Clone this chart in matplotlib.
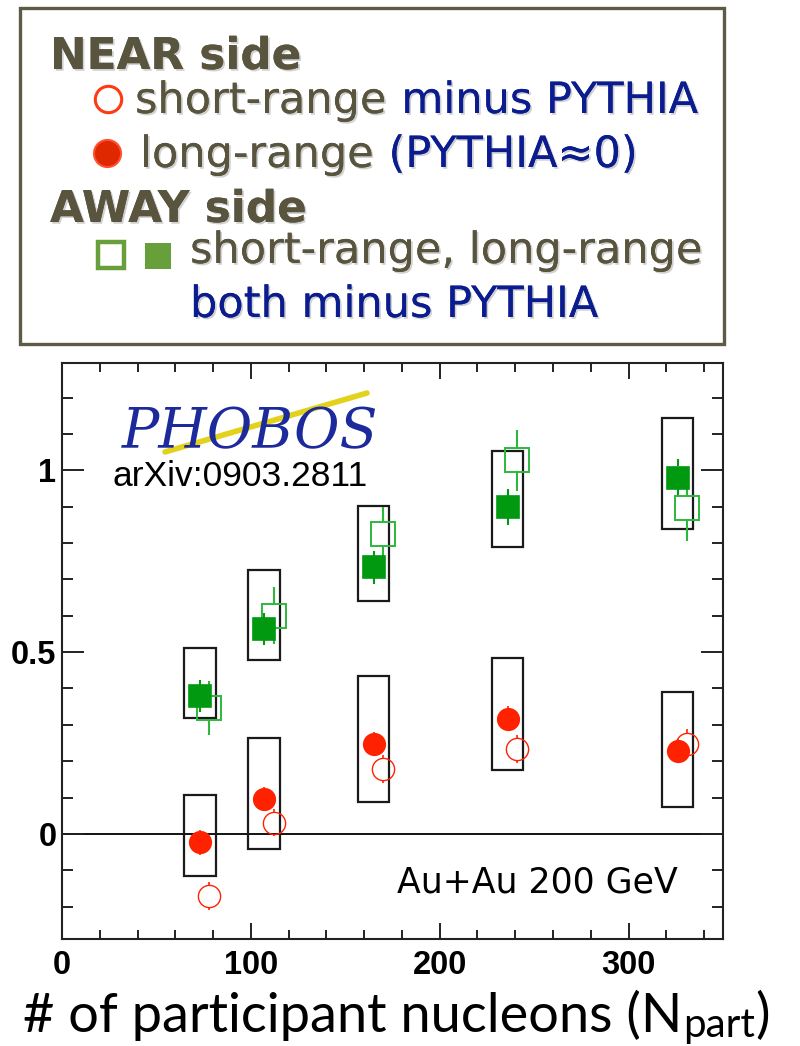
import matplotlib
matplotlib.use("Agg")
import matplotlib.pyplot as plt
import matplotlib.patheffects as pe
from matplotlib.patches import Rectangle
from matplotlib.ticker import MultipleLocator, FixedLocator
import numpy as np

# centrality bins (Npart)
npart = np.array([73, 107, 165, 236, 326])

# near side
near_long = np.array([-0.023, 0.096, 0.247, 0.317, 0.228])
near_long_err = np.array([0.034, 0.034, 0.034, 0.034, 0.034])
near_short = np.array([-0.171, 0.031, 0.178, 0.233, 0.248])
near_short_err = np.array([0.038, 0.038, 0.038, 0.038, 0.040])
near_sys_lo = np.array([-0.117, -0.041, 0.089, 0.175, 0.075])
near_sys_hi = np.array([0.108, 0.265, 0.435, 0.484, 0.390])

# away side
away_long = np.array([0.380, 0.563, 0.733, 0.899, 0.980])
away_long_err = np.array([0.044, 0.044, 0.045, 0.050, 0.050])
away_short = np.array([0.346, 0.600, 0.825, 1.027, 0.896])
away_short_err = np.array([0.074, 0.079, 0.075, 0.083, 0.090])
away_sys_lo = np.array([0.318, 0.479, 0.641, 0.789, 0.838])
away_sys_hi = np.array([0.511, 0.726, 0.903, 1.054, 1.143])

xticks = [0, 100, 200, 300]
yticks = [0, 0.5, 1]
ytick_labels = ['0', '0.5', '1']

RED = '#ff2200'
GREEN_F = '#009910'
GREEN_O = '#2db83d'
GRAY_TXT = '#58543e'
BLUE_TXT = '#0b1c8f'

W, H = 800, 1046
fig = plt.figure(figsize=(W / 100, H / 100), dpi=100)

# main plot
ax = fig.add_axes([62 / W, 1 - 939 / H, (723 - 62) / W, (939 - 363) / H])
ax.set_xlim(0, 350)
ax.set_ylim(-0.289, 1.295)

shift = 5.0   # open markers drawn a bit to the right
half = 8.3    # half width of systematic boxes

for lo, hi in ((near_sys_lo, near_sys_hi), (away_sys_lo, away_sys_hi)):
    for x, a, b in zip(npart, lo, hi):
        ax.add_patch(Rectangle((x - half, a), 2 * half, b - a, fill=False,
                               edgecolor='#1a1a1a', lw=1.6, zorder=2))

ax.axhline(0, color='black', lw=1.3, zorder=1)


def points(x, y, err, marker, ms, color, filled, mew=1.2, elw=1.5):
    # error bars only outside the marker, like ROOT does
    ymin, ymax = ax.get_ylim()
    r = ms / 2 * fig.dpi / 72 / (ax.bbox.height / (ymax - ymin))
    keep = err > r
    xs = np.r_[x[keep], x[keep]]
    ax.vlines(xs, np.r_[y[keep] + r, y[keep] - err[keep]],
              np.r_[y[keep] + err[keep], y[keep] - r],
              color=color, lw=elw, zorder=3)
    ax.plot(x, y, marker, ls='none', ms=ms, mec=color, mew=mew,
            mfc=color if filled else 'none', zorder=5 if filled else 4)


points(npart + shift, away_short, away_short_err, 's', 17, GREEN_O, False, mew=1.4)
points(npart, away_long, away_long_err, 's', 16, GREEN_F, True)
points(npart + shift, near_short, near_short_err, 'o', 16, RED, False, mew=1.0, elw=1.2)
points(npart, near_long, near_long_err, 'o', 15.5, RED, True, elw=1.2)

ax.xaxis.set_major_locator(FixedLocator(xticks))
ax.xaxis.set_minor_locator(MultipleLocator(20))
ax.set_yticks(yticks)
ax.set_yticklabels(ytick_labels)
ax.yaxis.set_minor_locator(MultipleLocator(0.1))
ax.tick_params(which='both', direction='in', top=True, right=True,
               width=1.4, color='#222222')
ax.tick_params(axis='x', which='major', length=11.5, pad=8)
ax.tick_params(axis='x', which='minor', length=6.5)
ax.tick_params(axis='y', which='major', length=15.5, pad=4)
ax.tick_params(axis='y', which='minor', length=8)
for lab in ax.get_xticklabels() + ax.get_yticklabels():
    lab.set_fontfamily('Liberation Sans')
    lab.set_fontweight('bold')
    lab.set_fontsize(23.5)
for sp in ax.spines.values():
    sp.set_linewidth(1.5)
    sp.set_color('#222222')

ax.text(27, 0.956, 'arXiv:0903.2811', fontfamily='Liberation Sans',
        fontsize=25.5, va='baseline', ha='left', color='black')
ax.text(326, -0.161, 'Au+Au 200 GeV', fontfamily='DejaVu Sans',
        fontsize=25, va='baseline', ha='right', color='black')

# x axis title with a subscript
xt = fig.text(23 / W, 1 - 1032 / H, '# of participant nucleons (N',
              fontfamily='Lato', fontsize=39, ha='left', va='baseline')
sub = fig.add_artist(plt.Annotation('part', xy=(1, H - 1037), xycoords=(xt, 'figure pixels'),
                                    xytext=(0.5, 0), textcoords='offset points',
                                    fontfamily='Lato', fontsize=29, va='baseline', ha='left'))
fig.add_artist(plt.Annotation(')', xy=(1, H - 1032), xycoords=(sub, 'figure pixels'),
                              xytext=(0.5, 0), textcoords='offset points',
                              fontfamily='Lato', fontsize=39, va='baseline', ha='left'))

# overlay in pixel units for the legend box and the logo
ov = fig.add_axes([0, 0, 1, 1], zorder=3)
ov.set_xlim(0, W)
ov.set_ylim(H, 0)
ov.axis('off')
ov.patch.set_visible(False)

# logo
ov.plot([165, 367], [452, 393], color='#e2d21c', lw=4, solid_capstyle='round', zorder=1)
ov.text(250, 448, 'PHOBOS', fontfamily='DejaVu Serif', style='italic',
        fontsize=40, color='#1c2a9c', ha='center', va='baseline', zorder=2)

ov.add_patch(Rectangle((20, 8), 704, 336, fill=False, edgecolor='#5d5a45', lw=2.4))

shadow = [pe.withSimplePatchShadow(offset=(1.3, -1.3), shadow_rgbFace='#9a9a9a', alpha=0.45),
          pe.Normal()]


def line(x, y, parts, size=31):
    prev = None
    for s, c in parts:
        if prev is None:
            prev = ov.text(x, y, s, color=c, fontsize=size, fontfamily='DejaVu Sans',
                           va='baseline', ha='left', path_effects=shadow)
        else:
            prev = ov.annotate(s, xy=(1, 0), xycoords=prev, xytext=(11, 0),
                               textcoords='offset points', color=c, fontsize=size,
                               fontfamily='DejaVu Sans', va='bottom', ha='left',
                               path_effects=shadow)
    return prev


ov.text(50, 69, 'NEAR side', color=GRAY_TXT, fontsize=31.5, fontweight='bold',
        fontfamily='DejaVu Sans', va='baseline', path_effects=shadow)
ov.plot(108, 99, 'o', ms=19, mfc='none', mec='#ff3a10', mew=2.2)
line(135, 113, [('short-range', GRAY_TXT), ('minus PYTHIA', BLUE_TXT)])
ov.plot(107, 153, 'o', ms=19.5, mfc='#e02800', mec='#ff5030', mew=1.5)
line(140, 167, [('long-range', GRAY_TXT), ('(PYTHIA\u22480)', BLUE_TXT)])
ov.text(50, 222, 'AWAY side', color=GRAY_TXT, fontsize=31.5, fontweight='bold',
        fontfamily='DejaVu Sans', va='baseline', path_effects=shadow)
ov.plot(111, 255, 's', ms=19, mfc='white', mec='#67a03a', mew=3.2)
ov.plot(158, 256, 's', ms=18.5, mfc='#67a03a', mec='#67a03a', mew=0)
line(190, 263, [('short-range, long-range', GRAY_TXT)])
line(190, 317, [('both minus PYTHIA', BLUE_TXT)])

fig.savefig('out.png', dpi=100)
